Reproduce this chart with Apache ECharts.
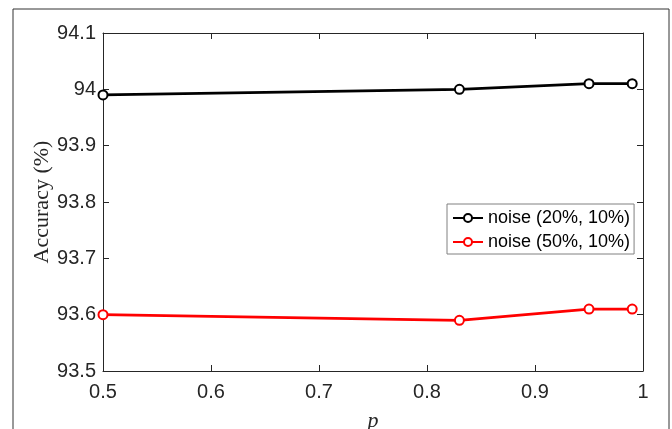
<!DOCTYPE html>
<html>
<head>
<meta charset="utf-8">
<script src="https://cdn.jsdelivr.net/npm/echarts@6/dist/echarts.min.js"></script>
<style>
  html, body { margin: 0; padding: 0; background: #fff; }
  #main { width: 672px; height: 429px; }
</style>
</head>
<body>
<div id="main"></div>
<script>
// values
const pValues = [0.5, 0.83, 0.95, 0.99]
const noise20 = [93.99, 94.0, 94.01, 94.01]
const noise50 = [93.6, 93.59, 93.61, 93.61]
const seriesNames = ['noise (20%, 10%)', 'noise (50%, 10%)']

const chart = echarts.init(document.getElementById('main'))

const tickFont = { fontFamily: 'Liberation Sans', fontSize: 20, color: '#262626' }
const axisLine = { show: true, lineStyle: { color: '#262626', width: 1 } }
const axisTick = { show: true, inside: true, length: 6, lineStyle: { color: '#262626' } }

function makeSeries(name, vals, color) {
  return {
    name: name,
    type: 'line',
    xAxisIndex: 0,
    yAxisIndex: 0,
    data: pValues.map((p, i) => [p, vals[i]]),
    symbol: 'emptyCircle',
    symbolSize: 9,
    lineStyle: { color: color, width: 2.8 },
    itemStyle: { color: color, borderColor: color, borderWidth: 2.8 },
    emphasis: { disabled: true }
  }
}

const option = {
  backgroundColor: '#fff',
  animation: false,
  grid: { left: 103, top: 33, width: 540, height: 338, outerBoundsMode: 'none' },
  graphic: [{
    type: 'rect',
    shape: { x: 13, y: 9, width: 656, height: 440 },
    style: { fill: 'none', stroke: '#333', lineWidth: 1 },
    silent: true
  }],
  legend: {
    left: 447,
    top: 204,
    orient: 'vertical',
    itemWidth: 30,
    itemHeight: 10,
    itemGap: 6,
    padding: [5, 4, 3, 5],
    borderColor: '#808080',
    borderWidth: 1,
    backgroundColor: '#fff',
    textStyle: { fontFamily: 'Liberation Sans', fontSize: 18, color: '#000' },
    data: seriesNames
  },
  xAxis: [{
    type: 'value',
    min: 0.5,
    max: 1,
    interval: 0.1,
    position: 'bottom',
    name: 'p',
    nameLocation: 'middle',
    nameGap: 39,
    nameMoveOverlap: false,
    nameTextStyle: { fontFamily: 'Liberation Serif', fontStyle: 'italic', fontSize: 22, color: '#262626' },
    axisLine: axisLine,
    axisTick: axisTick,
    axisLabel: Object.assign({ margin: 11 }, tickFont),
    splitLine: { show: false }
  }, {
    type: 'value',
    min: 0.5,
    max: 1,
    interval: 0.1,
    position: 'top',
    axisLine: axisLine,
    axisTick: axisTick,
    axisLabel: { show: false },
    splitLine: { show: false }
  }],
  yAxis: [{
    type: 'value',
    min: 93.5,
    max: 94.1,
    interval: 0.1,
    position: 'left',
    name: 'Accuracy (%)',
    nameLocation: 'middle',
    nameGap: 50,
    nameMoveOverlap: false,
    nameRotate: 90,
    nameTextStyle: { fontFamily: 'Liberation Serif', fontSize: 22, color: '#262626' },
    axisLine: axisLine,
    axisTick: axisTick,
    axisLabel: Object.assign({ margin: 7 }, tickFont),
    splitLine: { show: false }
  }, {
    type: 'value',
    min: 93.5,
    max: 94.1,
    interval: 0.1,
    position: 'right',
    axisLine: axisLine,
    axisTick: axisTick,
    axisLabel: { show: false },
    splitLine: { show: false }
  }],
  series: [
    makeSeries(seriesNames[0], noise20, '#000000'),
    makeSeries(seriesNames[1], noise50, '#ff0000')
  ]
}

chart.setOption(option)
</script>
</body>
</html>
